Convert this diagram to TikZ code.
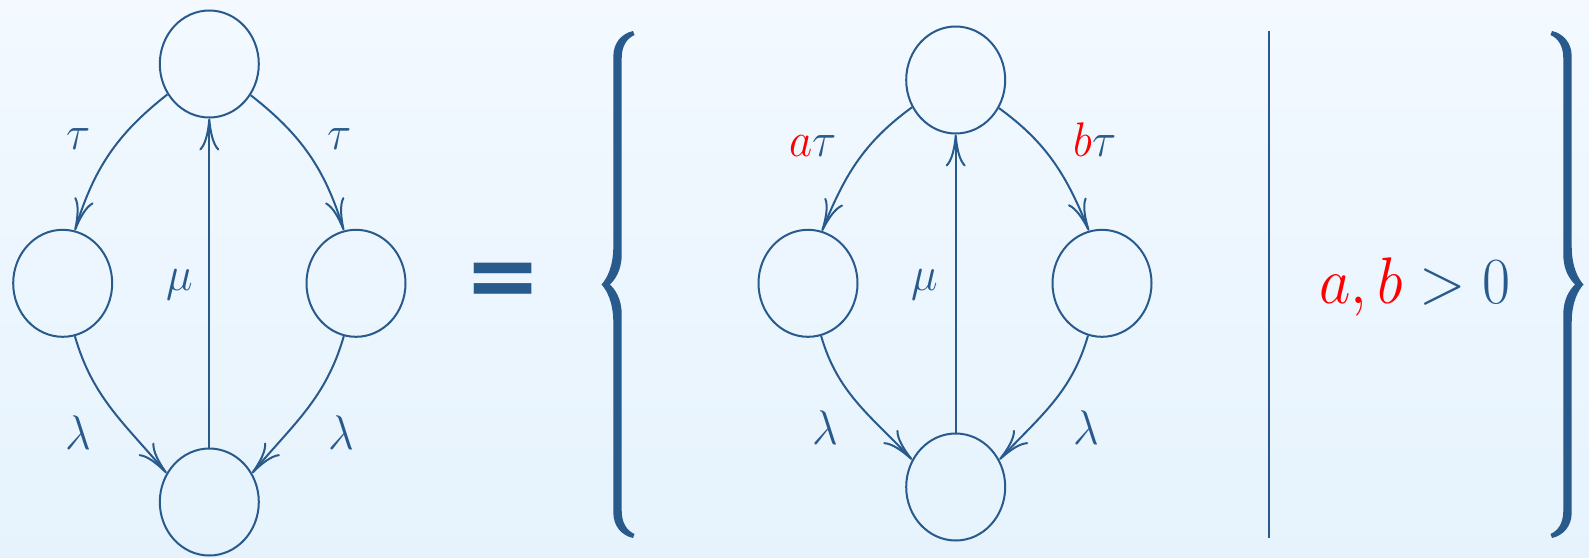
\RequirePackage{fix-cm}
\documentclass[tikz,border=0pt]{standalone}
\usepackage{fontspec}
\usepackage{graphicx}
\usetikzlibrary{shapes.geometric,arrows.meta}
\newfontfamily\eqfont{DejaVu Sans}
\definecolor{linec}{RGB}{40,90,140}
\definecolor{bgtop}{RGB}{243,249,255}
\definecolor{bgbot}{RGB}{230,243,253}
\definecolor{redc}{RGB}{255,0,0}
\newcommand{\lbl}[1]{\scalebox{1}[1.08]{$#1$}}
\newcommand{\mybrace}{\fill[linec] (15.5,253.5) .. controls (4.5,251) and (-4.2,242) .. (-4.2,228) -- (-4.2,38) .. controls (-4.2,18) and (-10.5,6) .. (-16,0) .. controls (-10.5,-6) and (-4.2,-18) .. (-4.2,-38) -- (-4.2,-228) .. controls (-4.2,-242) and (4.5,-251) .. (15.5,-253.5) -- (17,-249.5) .. controls (9.5,-246) and (4.2,-239) .. (4.2,-226) -- (4.2,-30) .. controls (4.2,-14) and (-2.5,-5) .. (-7.5,0) .. controls (-2.5,5) and (4.2,14) .. (4.2,30) -- (4.2,226) .. controls (4.2,239) and (9.5,246) .. (17,249.5) -- cycle;}
\tikzset{
  state/.style={ellipse,draw=linec,line width=1pt,minimum width=49.5pt,minimum height=53.5pt,inner sep=0pt},
  lab/.style={text=linec,inner sep=0pt,font=\fontsize{22.5}{27}\selectfont},
  arr/.style={draw=linec,line width=1pt,-{Computer Modern Rightarrow[length=16pt,width=10pt]}}
}
\begin{document}
\begin{tikzpicture}[x=0.5pt,y=0.5pt]
\useasboundingbox (0,-557) rectangle (1589,0);
\shade[top color=bgtop,bottom color=bgbot] (0,-557) rectangle (1589,0);

% left graph
\node[state] (T1) at (209.3,-64) {};
\node[state] (L1) at (62.7,-283.3) {};
\node[state] (R1) at (356,-283.3) {};
\node[state] (B1) at (209.3,-502) {};
\draw[arr] (T1.216.7) to[out=218,in=73] (L1.77);
\draw[arr] (T1.323.3) to[out=-38,in=107] (R1.103);
\draw[arr] (L1.283) to[out=-74,in=130] (B1.146);
\draw[arr] (R1.257) to[out=254,in=50] (B1.34);
\draw[arr] (B1.north) -- (T1.south);
\node[lab,anchor=base] (tl1) at (79,-149.2) {\lbl{\tau}};
\node[lab,anchor=base] (tr1) at (339.5,-149.2) {\lbl{\tau}};
\node[lab,anchor=base] (ll1) at (78,-449) {\lbl{\lambda}};
\node[lab,anchor=base] (lr1) at (341,-449) {\lbl{\lambda}};
\node[lab] (mu1) at (179.3,-285) {\lbl{\mu}};

% equals
\node[text=linec,inner sep=0pt] (eq) at (503.3,-285) {\eqfont\bfseries\fontsize{46}{50}\selectfont =};

% braces
\begin{scope}[shift={(617.5,-284.5)}] \mybrace \end{scope}
\begin{scope}[shift={(1567.5,-284.5)},xscale=-1] \mybrace \end{scope}

% middle graph
\node[state] (T2) at (955.7,-80) {};
\node[state] (L2) at (808,-283.3) {};
\node[state] (R2) at (1102,-283.3) {};
\node[state] (B2) at (955.7,-487) {};
\draw[arr] (T2.212.3) to[out=216,in=68] (L2.75.8);
\draw[arr] (T2.327.7) to[out=-36,in=112] (R2.104.2);
\draw[arr] (L2.284.2) to[out=-74,in=133] (B2.148);
\draw[arr] (R2.255.8) to[out=254,in=47] (B2.32);
\draw[arr] (B2.north) -- (T2.south);
\node[lab,anchor=base] (tl2) at (813,-156.3) {\lbl{{\color{redc}a}\tau}};
\node[lab,anchor=base] (tr2) at (1094.7,-156.3) {\lbl{{\color{redc}b}\tau}};
\node[lab,anchor=base] (ll2) at (825,-444) {\lbl{\lambda}};
\node[lab,anchor=base] (lr2) at (1086,-444) {\lbl{\lambda}};
\node[lab] (mu2) at (925,-285) {\lbl{\mu}};

% separator bar
\coordinate (bartop) at (1269.3,-31.3);
\coordinate (barbot) at (1269.3,-538);
\draw[linec,line width=1.1pt] (bartop) -- (barbot);

% condition
\node[text=linec,inner sep=0pt,anchor=base,font=\fontsize{30.5}{36}\selectfont] (cond) at (1415,-303.7) {\scalebox{1}[1.08]{${\color{redc}a,b}>0$}};
\end{tikzpicture}
\end{document}
